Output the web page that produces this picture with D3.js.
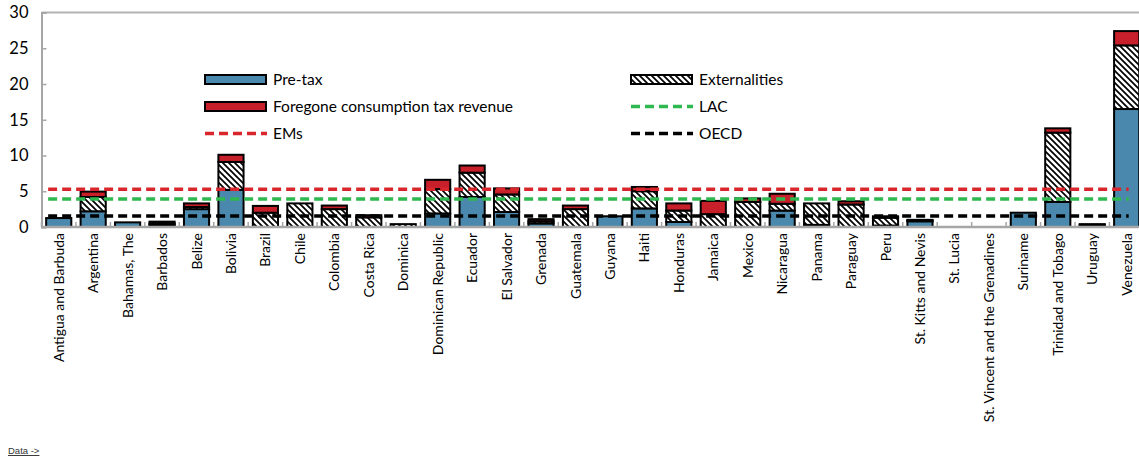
<!DOCTYPE html>
<html>
<head>
<meta charset="utf-8">
<script src="https://cdn.jsdelivr.net/npm/d3@7"></script>
<style>
  html, body { margin: 0; padding: 0; background: #fff; }
  svg { display: block; }
  text { font-family: Lato, "Open Sans", sans-serif; fill: #000; }
</style>
</head>
<body>
<svg id="chart" width="1139" height="457"></svg>
<script>
const countries = ["Antigua and Barbuda","Argentina","Bahamas, The","Barbados","Belize","Bolivia","Brazil","Chile","Colombia","Costa Rica","Dominica","Dominican Republic","Ecuador","El Salvador","Grenada","Guatemala","Guyana","Haiti","Honduras","Jamaica","Mexico","Nicaragua","Panama","Paraguay","Peru","St. Kitts and Nevis","St. Lucia","St. Vincent and the Grenadines","Suriname","Trinidad and Tobago","Uruguay","Venezuela"];
const preTax        = [1.25, 2.2, 0.65, 0.3, 2.5, 5.2, 0, 0, 0, 0, 0, 1.9, 4.2, 2.1, 0.5, 0, 1.5, 2.6, 0.7, 0, 0, 2.3, 0.3, 0, 0.2, 0.8, 0, 0, 2.0, 3.5, 0.3, 16.5];
const externalities = [0, 2.0, 0, 0.2, 0.3, 3.9, 2.0, 3.3, 2.5, 1.35, 0.4, 3.4, 3.4, 2.45, 0.3, 2.5, 0, 2.4, 1.6, 1.8, 3.5, 0.95, 3.0, 3.15, 1.1, 0.1, 0, 0, 0, 9.7, 0.1, 8.9];
const foregone      = [0, 0.75, 0, 0.25, 0.5, 1.0, 0.95, 0, 0.5, 0.3, 0, 1.3, 1.0, 0.85, 0.3, 0.5, 0, 0.6, 1.0, 1.85, 0.5, 1.4, 0, 0.45, 0.2, 0.1, 0, 0, 0, 0.6, 0, 2.0];
const refNames  = ["LAC", "EMs", "OECD"];
const refValues = [3.93, 5.28, 1.54];
const yTicks = [0, 5, 10, 15, 20, 25, 30];

const colors = { pre: "#4a89ad", fore: "#c8202a", LAC: "#2fb84f", EMs: "#d8262c", OECD: "#000000" };

const svg = d3.select("#chart");
const defs = svg.append("defs");
const pat = defs.append("pattern").attr("id", "hatch").attr("patternUnits", "userSpaceOnUse")
  .attr("width", 6).attr("height", 6);
pat.append("rect").attr("width", 6).attr("height", 6).attr("fill", "#fff");
pat.append("path").attr("d", "M-1,-1 L7,7 M-4,2 L4,10 M2,-4 L10,4").attr("stroke", "#000").attr("stroke-width", 1.7);

const plotLeft = 41.5, plotTop = 12.5, plotBottom = 227;
const x = d3.scaleBand().domain(countries).range([plotLeft, plotLeft + 32 * 34.45]).paddingInner(0.27).paddingOuter(0.135);
const y = d3.scaleLinear().domain([0, 30]).range([plotBottom, plotTop]);

// frame
svg.append("line").attr("x1", plotLeft).attr("x2", 1139).attr("y1", plotTop).attr("y2", plotTop)
  .attr("stroke", "#b3b3b3").attr("stroke-width", 1.8);

// y axis
const yAxis = svg.append("g").attr("transform", `translate(${plotLeft},0)`)
  .call(d3.axisLeft(y).tickValues(yTicks).tickSize(-5).tickPadding(13));
yAxis.select(".domain").attr("stroke", "#a6a6a6").attr("stroke-width", 2);
yAxis.selectAll(".tick line").attr("stroke", "#a6a6a6").attr("stroke-width", 1.5);
yAxis.selectAll(".tick text").attr("font-size", 16.5).style("font-family", "Lato, sans-serif");

// bars
const series = [
  { key: "pre", values: preTax, fill: colors.pre },
  { key: "ext", values: externalities, fill: "url(#hatch)" },
  { key: "fore", values: foregone, fill: colors.fore }
];
const segs = [];
countries.forEach((c, i) => {
  let base = 0;
  series.forEach(s => {
    const v = s.values[i];
    if (v > 0) segs.push({ c, y0: base, y1: base + v, fill: s.fill });
    base += v;
  });
});
svg.append("g").selectAll("rect").data(segs).join("rect")
  .attr("x", d => x(d.c))
  .attr("width", x.bandwidth())
  .attr("y", d => y(d.y1))
  .attr("height", d => y(d.y0) - y(d.y1))
  .attr("fill", d => d.fill)
  .attr("stroke", "#000").attr("stroke-width", 2);

// x axis
const xAxis = svg.append("g").attr("transform", `translate(0,${plotBottom})`)
  .call(d3.axisBottom(x).tickSize(0).tickPadding(0));
xAxis.select(".domain").remove();
xAxis.selectAll(".tick text")
  .attr("transform", "rotate(-90)")
  .attr("x", -6).attr("y", 0).attr("dy", "0.36em")
  .attr("text-anchor", "end")
  .attr("font-size", 14).style("font-family", "Lato, sans-serif");
svg.append("line").attr("x1", plotLeft).attr("x2", 1139).attr("y1", plotBottom).attr("y2", plotBottom)
  .attr("stroke", "#a6a6a6").attr("stroke-width", 2.5);
svg.append("g").selectAll("line").data(countries).join("line")
  .attr("x1", d => x(d) - x.step() * x.paddingInner() / 2)
  .attr("x2", d => x(d) - x.step() * x.paddingInner() / 2)
  .attr("y1", plotBottom - 5).attr("y2", plotBottom)
  .attr("stroke", "#a6a6a6").attr("stroke-width", 1.5);

// reference lines
const xStart = x(countries[0]) + 2;
const xEnd = x(countries[countries.length - 1]) + x.bandwidth() / 2 + 2;
svg.append("g").selectAll("line").data(refNames).join("line")
  .attr("x1", xStart).attr("x2", xEnd)
  .attr("y1", (d, i) => y(refValues[i])).attr("y2", (d, i) => y(refValues[i]))
  .attr("stroke", d => colors[d]).attr("stroke-width", 3.5).attr("stroke-dasharray", "9,5");

// legend
const lg = svg.append("g");
const legendItems = [
  { label: "Pre-tax", type: "rect", fill: colors.pre, lx: 205, ly: 79.5 },
  { label: "Foregone consumption tax revenue", type: "rect", fill: colors.fore, lx: 205, ly: 106.5 },
  { label: "EMs", type: "line", color: colors.EMs, lx: 205, ly: 133.5 },
  { label: "Externalities", type: "rect", fill: "url(#hatch)", lx: 631, ly: 79.5 },
  { label: "LAC", type: "line", color: colors.LAC, lx: 631, ly: 106.5 },
  { label: "OECD", type: "line", color: colors.OECD, lx: 631, ly: 133.5 }
];
legendItems.forEach(it => {
  if (it.type === "rect") {
    lg.append("rect").attr("x", it.lx).attr("y", it.ly - 4.5).attr("width", 61).attr("height", 9)
      .attr("fill", it.fill).attr("stroke", "#000").attr("stroke-width", 2);
  } else {
    lg.append("line").attr("x1", it.lx).attr("x2", it.lx + 62).attr("y1", it.ly).attr("y2", it.ly)
      .attr("stroke", it.color).attr("stroke-width", 3.5).attr("stroke-dasharray", "9,5");
  }
  lg.append("text").attr("x", it.lx + 68).attr("y", it.ly).attr("dy", "0.36em")
    .attr("font-size", 15.5).text(it.label);
});

// footer link
svg.append("text").attr("x", 8).attr("y", 454).attr("font-size", 9.5)
  .attr("text-decoration", "underline").style("fill", "#333")
  .style("font-family", "'Liberation Sans Narrow', 'Liberation Sans', sans-serif")
  .text("Data ->");
</script>
</body>
</html>
